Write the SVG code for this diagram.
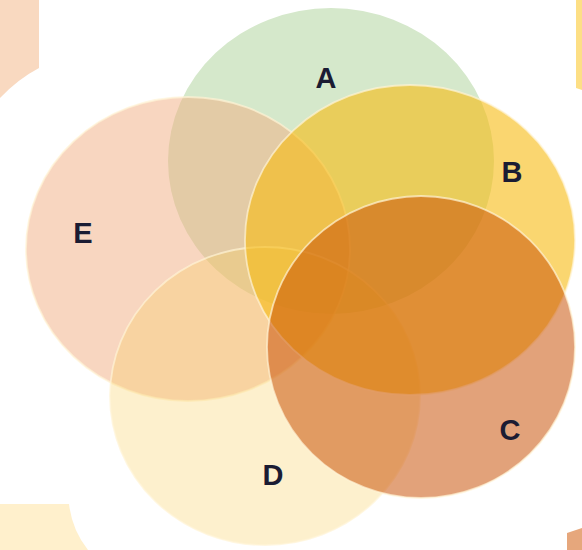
<svg xmlns="http://www.w3.org/2000/svg" width="582" height="550" viewBox="0 0 582 550">
  <style>
    .edge { fill: none; stroke: #fff4d6; stroke-width: 1.8; stroke-opacity: 0.7; }
    .label { font-family: "Liberation Sans", Arial, sans-serif; font-weight: bold; font-size: 29px; fill: #1b1c33; text-anchor: middle; }
  </style>
  <rect x="0" y="0" width="582" height="550" fill="#ffffff"/>
  <g id="corners">
    <path d="M0,0 H39 V68 Q18,79 0,98 Z" fill="#f9d9c0"/>
    <path d="M576,0 H582 V90 L576,88 Z" fill="#fddf85"/>
    <path d="M0,504 H69 Q72,530 88,550 H0 Z" fill="#fff0cc"/>
    <path d="M567,550 V533 L582,528 V550 Z" fill="#e6a77c"/>
  </g>
  <g id="connectors"/>
  <g id="node-A">
    <ellipse cx="331" cy="161" rx="163" ry="153" fill="#d5e8cb"/>
    <text class="label" x="326" y="88">A</text>
  </g>
  <g id="node-E">
    <ellipse cx="188" cy="249" rx="162" ry="152" fill="#f1ad81" fill-opacity="0.5"/>
    <ellipse class="edge" cx="188" cy="249" rx="162" ry="152"/>
    <text class="label" x="83" y="243">E</text>
  </g>
  <g id="node-D">
    <ellipse cx="265" cy="396" rx="155" ry="149" fill="#f8cd58" fill-opacity="0.3"/>
    <ellipse class="edge" cx="265" cy="396" rx="155" ry="149"/>
    <text class="label" x="273" y="485">D</text>
  </g>
  <g id="node-B">
    <ellipse cx="410" cy="240" rx="165" ry="155" fill="#f7bb11" fill-opacity="0.6"/>
    <ellipse class="edge" cx="410" cy="240" rx="165" ry="155"/>
    <text class="label" x="512" y="182">B</text>
  </g>
  <g id="node-C">
    <ellipse cx="421" cy="347" rx="154" ry="151" fill="#c84f04" fill-opacity="0.53"/>
    <ellipse class="edge" cx="421" cy="347" rx="154" ry="151"/>
    <text class="label" x="510" y="440">C</text>
  </g>
</svg>
